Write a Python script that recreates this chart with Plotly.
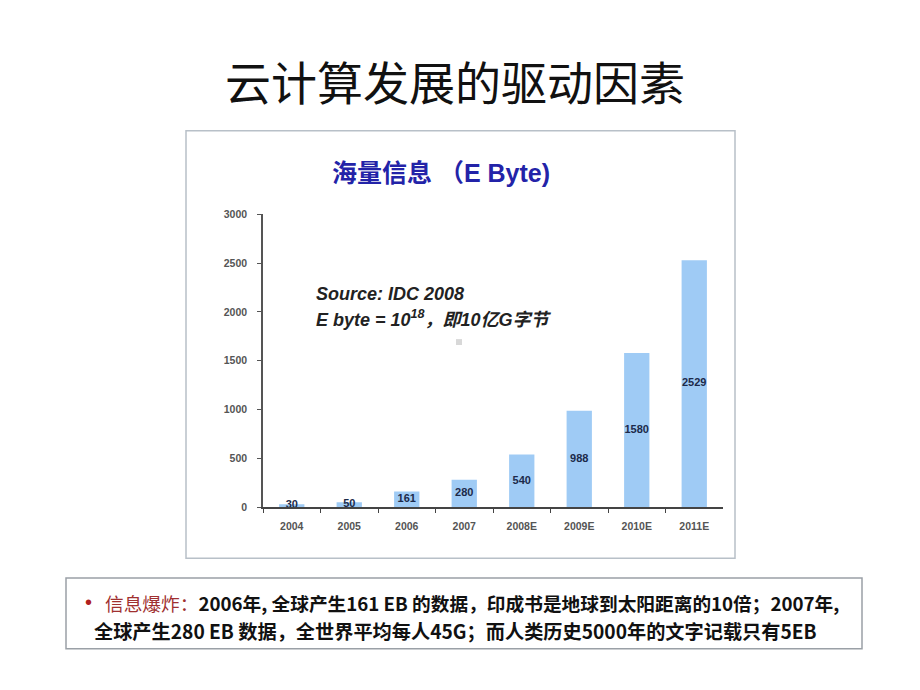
import plotly.graph_objects as go

W, H = 920, 690

categories = ["2004", "2005", "2006", "2007", "2008E", "2009E", "2010E", "2011E"]
values = [30, 50, 161, 280, 540, 988, 1580, 2529]
y_ticks = [0, 500, 1000, 1500, 2000, 2500, 3000]

def px(x):
    return x / W

def py(y):
    return 1 - y / H

fig = go.Figure()
fig.add_trace(go.Bar(
    x=categories, y=values, marker=dict(color="#9fcbf5", line=dict(width=0)),
    width=0.44, hoverinfo="skip", showlegend=False,
))
fig.add_trace(go.Scatter(
    x=categories, y=[v / 2 for v in values], mode="text",
    text=[str(v) for v in values],
    textfont=dict(family="Liberation Sans, Arial", size=11, color="#1c2a4a", weight="bold"),
    hoverinfo="skip", showlegend=False,
))

ax_font = dict(family="Liberation Sans, Arial", size=10.5, color="#555555", weight="bold")

fig.update_layout(
    width=W, height=H, margin=dict(l=0, r=0, t=0, b=0),
    paper_bgcolor="white", plot_bgcolor="rgba(0,0,0,0)",
    xaxis=dict(domain=[px(263), px(723)], showgrid=False, showline=True,
               linecolor="#444444", linewidth=1.5, ticks="outside", tickson="boundaries",
               ticklen=4, tickcolor="#444444", tickfont=ax_font, zeroline=False,
               ticklabelstandoff=9, fixedrange=True),
    yaxis=dict(domain=[py(510), py(212)], range=[0, 3000], tickvals=y_ticks,
               showgrid=False, showline=True, linecolor="#555555", linewidth=1.5,
               ticks="outside", ticklen=4, tickcolor="#555555", tickfont=ax_font,
               ticklabelstandoff=8, zeroline=False, fixedrange=True),
    shapes=[
        dict(type="rect", xref="paper", yref="paper", x0=px(186), x1=px(735),
             y0=py(562), y1=py(127), line=dict(color="#b8c0c8", width=1.5),
             fillcolor="rgba(0,0,0,0)", layer="below"),
        dict(type="rect", xref="paper", yref="paper", x0=px(66), x1=px(862),
             y0=py(654), y1=py(582), line=dict(color="#9aa0a6", width=1.5),
             fillcolor="rgba(0,0,0,0)"),
        dict(type="rect", xref="paper", yref="paper", x0=px(456), x1=px(462),
             y0=py(345), y1=py(339), line=dict(width=0), fillcolor="#d8d8d8"),
    ],
    annotations=[
        dict(text="云计算发展的驱动因素", xref="paper", yref="paper", x=px(455), y=py(75),
             showarrow=False, xanchor="center", yanchor="middle",
             font=dict(family="Noto Sans CJK SC", size=46, color="#111111")),
        dict(text="海量信息 （E Byte)", xref="paper", yref="paper", x=px(441), y=py(170),
             showarrow=False, xanchor="center", yanchor="middle",
             font=dict(family="Liberation Sans, Noto Sans CJK SC", size=25, color="#2323a8",
                       weight="bold")),
        dict(text="<b><i>Source: IDC 2008</i></b>", xref="paper", yref="paper",
             x=px(314), y=py(293), showarrow=False, xanchor="left", yanchor="middle",
             font=dict(family="Liberation Sans, Noto Sans CJK SC", size=18, color="#222222")),
        dict(text="<b><i>E byte = 10<sup>18</sup>，即10亿G字节</i></b>", xref="paper", yref="paper",
             x=px(314), y=py(318), showarrow=False, xanchor="left", yanchor="middle",
             font=dict(family="Liberation Sans, Noto Sans CJK SC", size=18, color="#222222")),
        dict(text="•", xref="paper", yref="paper", x=px(88), y=py(607), showarrow=False,
             xanchor="center", yanchor="middle",
             font=dict(family="Liberation Sans", size=20, color="#b02020")),
        dict(text="<span style='color:#a03030'>信息爆炸：</span><b>2006年, 全球产生161 EB 的数据，印成书是地球到太阳距离的10倍；2007年,</b>",
             xref="paper", yref="paper", x=px(103), y=py(607), showarrow=False,
             xanchor="left", yanchor="middle",
             font=dict(family="Liberation Sans Narrow, Noto Sans CJK SC", size=18.7, color="#111111")),
        dict(text="<b>全球产生280 EB 数据，全世界平均每人45G；而人类历史5000年的文字记载只有5EB</b>",
             xref="paper", yref="paper", x=px(92), y=py(636), showarrow=False,
             xanchor="left", yanchor="middle",
             font=dict(family="Liberation Sans Narrow, Noto Sans CJK SC", size=19.2, color="#111111")),
    ],
)

fig.write_html("out.html")
